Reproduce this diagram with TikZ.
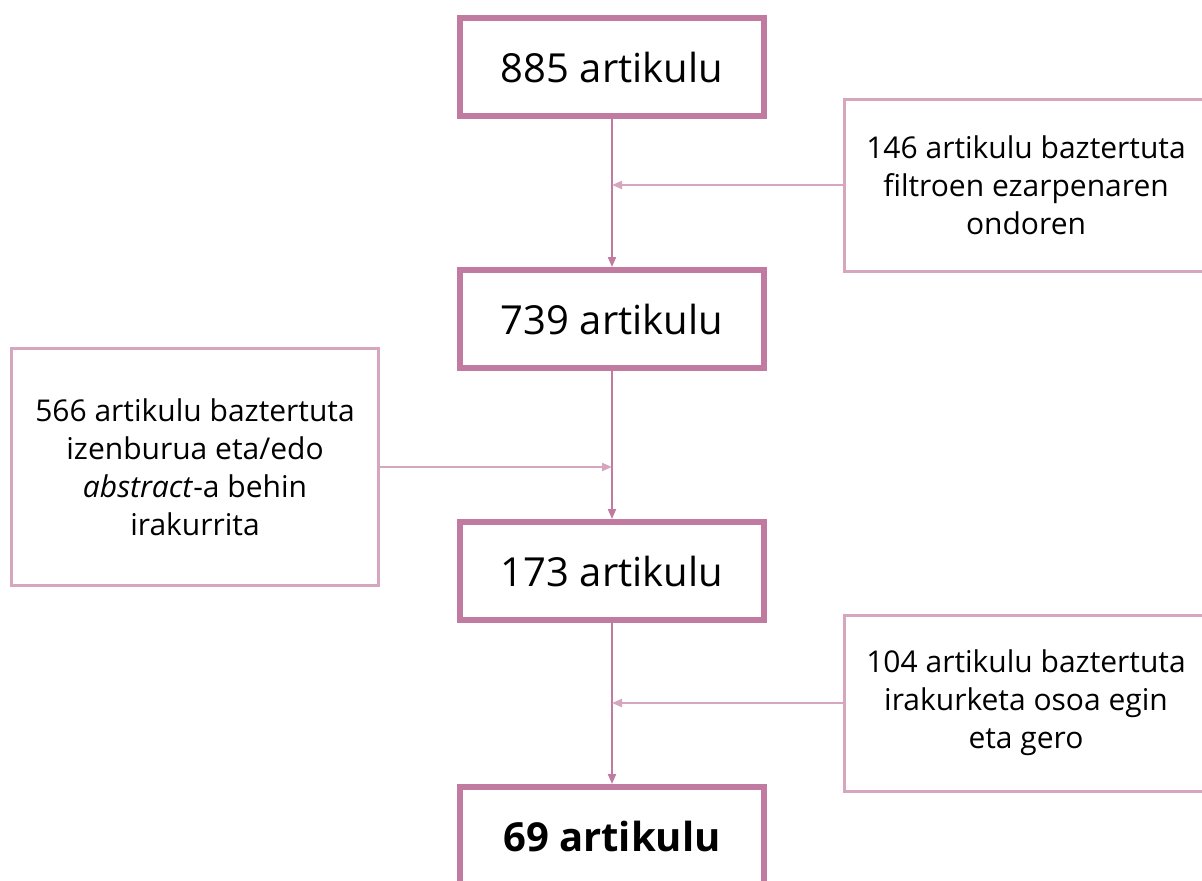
\documentclass[tikz,border=0pt]{standalone}
\usepackage{fontspec}
\setmainfont{Open Sans}
\usetikzlibrary{arrows.meta}
\definecolor{magdark}{HTML}{C27BA0}
\definecolor{maglight}{HTML}{D5A6BD}

\begin{document}
\begin{tikzpicture}[x=0.5pt,y=-0.5pt,
  mainbox/.style={draw=magdark, line width=3pt, fill=white, minimum width=152pt, minimum height=49pt, font=\fontsize{20}{24}\selectfont},
  sidebox/.style={draw=maglight, line width=1.5pt, fill=white, align=center, font=\fontsize{15}{19}\selectfont},
  downarrow/.style={draw=magdark, line width=1pt, -{Triangle[length=5pt,width=4pt]}},
  sidearrow/.style={draw=maglight, line width=1pt, -{Triangle[length=5pt,width=4pt]}}]
\useasboundingbox (0,0) rectangle (1202,880);
\clip (0,0) rectangle (1202,880);
\node[mainbox] (Art885) at (612,67) {885 artikulu};
\node[mainbox] (Art739) at (612,319) {739 artikulu};
\node[mainbox] (Art173) at (612,571) {173 artikulu};
\node[mainbox] (Art69) at (612,836) {\textbf{69 artikulu}};
\node[sidebox, minimum width=181.5pt, minimum height=86pt] (Out146) at (1026,185) {146 artikulu baztertuta\\filtroen ezarpenaren\\ondoren};
\node[sidebox, minimum width=183.5pt, minimum height=118.5pt] (Out566) at (195,467) {566 artikulu baztertuta\\izenburua eta/edo\\\textit{abstract}-a behin\\irakurrita};
\node[sidebox, minimum width=181.5pt, minimum height=88pt] (Out104) at (1026,703) {104 artikulu baztertuta\\irakurketa osoa egin\\eta gero};
\draw[downarrow] (Art885) -- (Art739);
\draw[downarrow] (Art739) -- (Art173);
\draw[downarrow] (Art173) -- (Art69);
\draw[sidearrow] (Out146.west) -- (Out146.west -| Art885.south);
\draw[sidearrow] (Out566.east) -- (Out566.east -| Art739.south);
\draw[sidearrow] (Out104.west) -- (Out104.west -| Art173.south);
\end{tikzpicture}
\end{document}
